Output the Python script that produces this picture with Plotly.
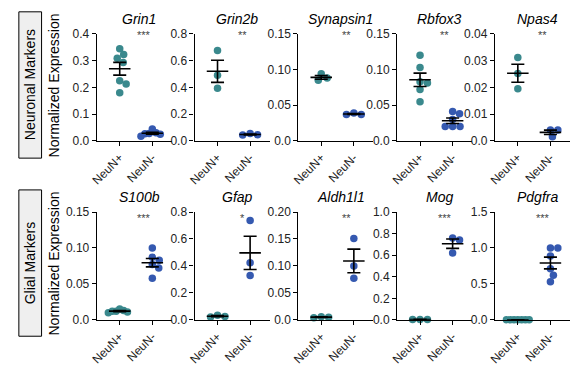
import plotly.graph_objects as go

# ---------------- data ----------------
genes = ["Grin1", "Grin2b", "Synapsin1", "Rbfox3", "Npas4",
         "S100b", "Gfap", "Aldh1l1", "Mog", "Pdgfra"]
groups = ["NeuN+", "NeuN-"]

grin1_pos = [0.345, 0.323, 0.309, 0.293, 0.225, 0.213, 0.180]
grin1_neg = [0.044, 0.030, 0.027, 0.026, 0.025, 0.017]
grin2b_pos = [0.677, 0.490, 0.394]
grin2b_neg = [0.045, 0.055, 0.043]
synapsin1_pos = [0.094, 0.088, 0.085]
synapsin1_neg = [0.037, 0.039, 0.037]
rbfox3_pos = [0.120, 0.103, 0.083, 0.081, 0.072, 0.055]
rbfox3_neg = [0.038, 0.041, 0.030, 0.020, 0.020, 0.020]
npas4_pos = [0.0312, 0.0252, 0.0195]
npas4_neg = [0.0040, 0.0040, 0.0015]
s100b_pos = [0.015, 0.013, 0.012, 0.011, 0.010, 0.012]
s100b_neg = [0.100, 0.087, 0.083, 0.077, 0.072, 0.058]
gfap_pos = [0.022, 0.035, 0.025]
gfap_neg = [0.738, 0.424, 0.329]
aldh1l1_pos = [0.004, 0.006, 0.005]
aldh1l1_neg = [0.151, 0.100, 0.077]
mog_pos = [0.003, 0.004, 0.003]
mog_neg = [0.76, 0.74, 0.62]
pdgfra_pos = [0.002, 0.002, 0.002, 0.002, 0.002, 0.002, 0.002]
pdgfra_neg = [1.00, 1.00, 0.89, 0.71, 0.62, 0.53]

pos_values = [grin1_pos, grin2b_pos, synapsin1_pos, rbfox3_pos, npas4_pos,
              s100b_pos, gfap_pos, aldh1l1_pos, mog_pos, pdgfra_pos]
neg_values = [grin1_neg, grin2b_neg, synapsin1_neg, rbfox3_neg, npas4_neg,
              s100b_neg, gfap_neg, aldh1l1_neg, mog_neg, pdgfra_neg]

y_max = [0.4, 0.8, 0.15, 0.15, 0.04, 0.15, 0.8, 0.20, 1.0, 1.5]
y_tickvals = [
    [0, 0.1, 0.2, 0.3, 0.4],
    [0, 0.2, 0.4, 0.6, 0.8],
    [0, 0.05, 0.10, 0.15],
    [0, 0.05, 0.10, 0.15],
    [0, 0.01, 0.02, 0.03, 0.04],
    [0, 0.05, 0.10, 0.15],
    [0, 0.2, 0.4, 0.6, 0.8],
    [0, 0.05, 0.10, 0.15, 0.20],
    [0, 0.2, 0.4, 0.6, 0.8, 1.0],
    [0, 0.5, 1.0, 1.5],
]
y_ticktext = [
    ["0.0", "0.1", "0.2", "0.3", "0.4"],
    ["0.0", "0.2", "0.4", "0.6", "0.8"],
    ["0.0", "0.05", "0.10", "0.15"],
    ["0.0", "0.05", "0.10", "0.15"],
    ["0.0", "0.01", "0.02", "0.03", "0.04"],
    ["0.0", "0.05", "0.10", "0.15"],
    ["0.0", "0.2", "0.4", "0.6", "0.8"],
    ["0.0", "0.05", "0.10", "0.15", "0.20"],
    ["0.0", "0.2", "0.4", "0.6", "0.8", "1.0"],
    ["0.0", "0.5", "1.0", "1.5"],
]
stars = ["***", "**", "**", "**", "**", "***", "*", "**", "***", "***"]
row_labels = ["Neuronal Markers", "Glial Markers"]
y_label = "Normalized Expression"

# ---------------- layout geometry (pixels) ----------------
W, H = 577, 375
panel_left = [91, 190, 295, 395, 494]
xr = [-0.7, 1.6]
px_per_x = 33.0
panel_w = (xr[1] - xr[0]) * px_per_x
row_top = [28, 213]
row_bot = [139, 325]

COL_POS = "#3a898d"
COL_NEG = "#3559b0"
FONT = "Liberation Sans, Arial, sans-serif"


def swarm(vals, ppu_y, d=7.2, max_half=11.5):
    order = sorted(range(len(vals)), key=lambda i: -vals[i])
    placed = []
    offs = [0.0] * len(vals)
    for i in order:
        y = vals[i] * ppu_y
        k = 0
        while True:
            step = (k + 1) // 2 * 0.5 * (1 if k % 2 == 1 else -1)
            ok = all(((step - px) ** 2 + (y - py) ** 2) >= d * d for px, py in placed)
            if ok:
                break
            k += 1
        offs[i] = step
        placed.append((step, y))
    m = max(abs(o) for o in offs) if offs else 0
    if m > max_half:
        offs = [o * max_half / m for o in offs]
    return [o / px_per_x for o in offs]


def mean_sem(v):
    n = len(v)
    m = sum(v) / n
    if n > 1:
        sd = (sum((x - m) ** 2 for x in v) / (n - 1)) ** 0.5
        return m, sd / n ** 0.5
    return m, 0.0


fig = go.Figure()
annotations = []
shapes = []

for idx, gene in enumerate(genes):
    row = idx // 5
    col = idx % 5
    ax = "" if idx == 0 else str(idx + 1)
    xa, ya = "x" + ax, "y" + ax
    left = panel_left[col]
    dom_x = [left / W, (left + panel_w) / W]
    dom_y = [(H - row_bot[row]) / H, (H - row_top[row]) / H]
    ppu_y = (row_bot[row] - row_top[row]) / y_max[idx]

    for g, (vals, colr) in enumerate([(pos_values[idx], COL_POS), (neg_values[idx], COL_NEG)]):
        offs = swarm(vals, ppu_y)
        fig.add_trace(go.Scatter(
            x=[g + o for o in offs], y=vals, mode="markers",
            marker=dict(size=7.5, color=colr, line=dict(width=0)),
            xaxis=xa, yaxis=ya, showlegend=False, cliponaxis=False, hoverinfo="y"))
    for g, vals in enumerate([pos_values[idx], neg_values[idx]]):
        m, s = mean_sem(vals)
        lx = [g - 0.33, g + 0.33, None, g, g, None, g - 0.2, g + 0.2, None, g - 0.2, g + 0.2]
        ly = [m, m, None, m - s, m + s, None, m + s, m + s, None, m - s, m - s]
        fig.add_trace(go.Scatter(
            x=lx, y=ly, mode="lines", line=dict(color="black", width=1.6),
            xaxis=xa, yaxis=ya, showlegend=False, cliponaxis=False, hoverinfo="skip"))

    axis_common = dict(showline=True, linecolor="black", linewidth=1.4,
                       ticks="outside", ticklen=4, tickwidth=1.4, tickcolor="black",
                       showgrid=False, zeroline=False,
                       tickfont=dict(family=FONT, size=12, color="#222"))
    fig.layout["xaxis" + ax] = dict(domain=dom_x, range=xr, anchor=ya,
                                    tickvals=[0, 1], ticktext=groups, tickangle=-45,
                                    **axis_common)
    fig.layout["yaxis" + ax] = dict(domain=dom_y, range=[0, y_max[idx]], anchor=xa,
                                    tickvals=y_tickvals[idx], ticktext=y_ticktext[idx],
                                    **axis_common)

    title_y = [12, 197][row]
    annotations.append(dict(text="<i>" + gene + "</i>", xref=xa, x=0.6,
                            yref="paper", y=(H - title_y) / H, showarrow=False,
                            xanchor="center", yanchor="middle",
                            font=dict(family=FONT, size=14, color="black")))
    star_y = [29, 219][row]
    annotations.append(dict(text=stars[idx], xref=xa, x=0.76,
                            yref="paper", y=(H - star_y) / H, showarrow=False,
                            xanchor="center", yanchor="middle",
                            font=dict(family=FONT, size=11, color="#444")))

# row labels
box_top = [5, 190]
box_bot = [157, 342]
for r in range(2):
    shapes.append(dict(type="rect", xref="paper", yref="paper",
                       x0=12 / W, x1=35 / W,
                       y0=(H - box_bot[r]) / H, y1=(H - box_top[r]) / H,
                       fillcolor="#efefef", line=dict(color="black", width=1)))
    cy = (box_top[r] + box_bot[r]) / 2
    annotations.append(dict(text=row_labels[r], xref="paper", yref="paper",
                            x=23.5 / W, y=(H - cy) / H, textangle=-90, showarrow=False,
                            xanchor="center", yanchor="middle",
                            font=dict(family=FONT, size=14, color="black")))
    annotations.append(dict(text=y_label, xref="paper", yref="paper",
                            x=48 / W, y=(H - cy) / H, textangle=-90, showarrow=False,
                            xanchor="center", yanchor="middle",
                            font=dict(family=FONT, size=14, color="black")))

fig.update_layout(width=W, height=H, margin=dict(l=0, r=0, t=0, b=0),
                  paper_bgcolor="white", plot_bgcolor="white",
                  annotations=annotations, shapes=shapes,
                  font=dict(family=FONT))

fig.write_html("out.html")
